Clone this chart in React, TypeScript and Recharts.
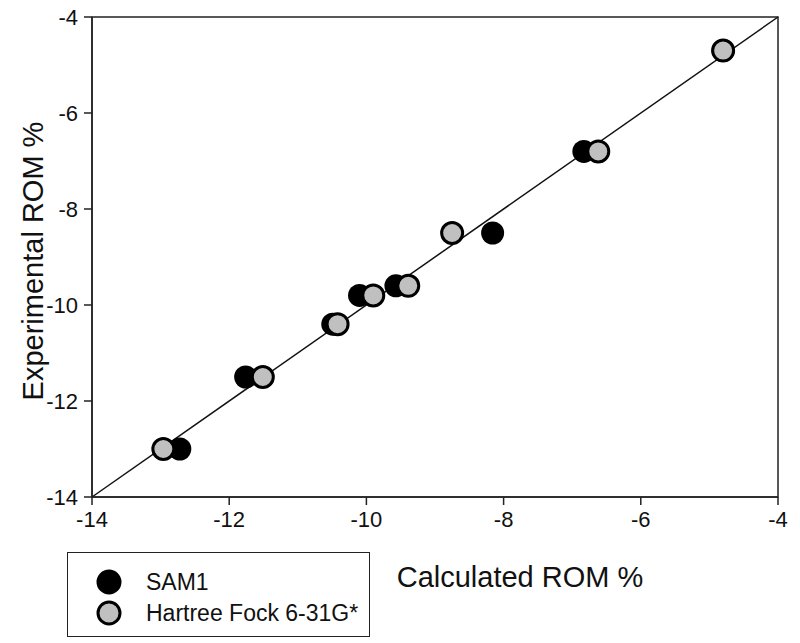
import {
  ScatterChart,
  Scatter,
  XAxis,
  YAxis,
  ReferenceLine,
  ReferenceArea
} from 'recharts';

// experimental ROM % (shared y values)
const experimental = [-13.0, -11.5, -10.4, -9.8, -9.6, -8.5, -6.8, -4.7];
// calculated ROM % per method
const sam1 = [-12.72, -11.76, -10.49, -10.1, -9.57, -8.16, -6.83, -4.8];
const hartreeFock = [-12.96, -11.51, -10.42, -9.9, -9.39, -8.75, -6.62, -4.8];
const ticks = [-14, -12, -10, -8, -6, -4];
const legendItems = [
  { name: 'SAM1', fill: '#000' },
  { name: 'Hartree Fock 6-31G*', fill: '#c0c0c0' }
];

const sam1Data = sam1.map((x, i) => ({ x, y: experimental[i] }));
const hfData = hartreeFock.map((x, i) => ({ x, y: experimental[i] }));

const FONT = '"Liberation Sans", Arial, sans-serif';
const AXIS = '#222';

const LegendBox = () => (
  <div
    style={{
      position: 'absolute',
      left: 67,
      top: 552,
      width: 303,
      height: 85,
      border: `1.5px solid ${AXIS}`,
      fontFamily: FONT,
      fontSize: 23,
      color: '#111',
      boxSizing: 'border-box',
      background: '#fff'
    }}
  >
    {legendItems.map((item, i) => (
      <div key={item.name} style={{ position: 'absolute', left: 28, top: 16 + i * 31, height: 26, display: 'flex', alignItems: 'center' }}>
        <svg width={26} height={26}>
          <circle cx={13} cy={13} r={11} fill={item.fill} stroke="#000" strokeWidth={3} />
        </svg>
        <span style={{ marginLeft: 24, lineHeight: '26px' }}>{item.name}</span>
      </div>
    ))}
  </div>
);

export default function App() {
  return (
    <div style={{ position: 'absolute', left: 0, top: 0, width: 800, height: 643, background: '#fff' }}>
      <ScatterChart width={800} height={643} margin={{ top: 17, right: 22, left: 0, bottom: 0 }}>
        <ReferenceArea x1={-14} x2={-4} y1={-14} y2={-4} fill="none" stroke={AXIS} strokeWidth={1.5} />
        <XAxis
          type="number"
          dataKey="x"
          domain={[-14, -4]}
          ticks={ticks}
          height={146}
          tickSize={8}
          tickMargin={6}
          stroke={AXIS}
          strokeWidth={1.5}
          tick={{ fill: '#111', fontSize: 22, fontFamily: FONT }}
          allowDataOverflow
          label={(props: any) => {
            const vb = props.viewBox;
            return (
              <text x={vb.x + 428} y={vb.y + 90} textAnchor="middle" fill="#111" fontSize={29} fontFamily={FONT}>
                Calculated ROM %
              </text>
            );
          }}
        />
        <YAxis
          type="number"
          dataKey="y"
          domain={[-14, -4]}
          ticks={ticks}
          width={92}
          tickSize={8}
          tickMargin={6}
          stroke={AXIS}
          strokeWidth={1.5}
          tick={{ fill: '#111', fontSize: 22, fontFamily: FONT }}
          allowDataOverflow
          label={(props: any) => {
            const vb = props.viewBox;
            const cx = vb.x + 33;
            const cy = vb.y + vb.height / 2 + 4;
            return (
              <text x={cx} y={cy} transform={`rotate(-90 ${cx} ${cy})`} textAnchor="middle" dominantBaseline="central" fill="#111" fontSize={29} fontFamily={FONT}>
                Experimental ROM %
              </text>
            );
          }}
        />
        <ReferenceLine segment={[{ x: -14, y: -14 }, { x: -4, y: -4 }]} stroke="#111" strokeWidth={1.5} />
        <Scatter name="SAM1" data={sam1Data} fill="#000" isAnimationActive={false} shape={(p: any) => <circle cx={p.cx} cy={p.cy} r={11.5} fill="#000" />} />
        <Scatter
          name="Hartree Fock 6-31G*"
          data={hfData}
          fill="#c0c0c0"
          isAnimationActive={false}
          shape={(p: any) => <circle cx={p.cx} cy={p.cy} r={10.5} fill="#c0c0c0" stroke="#000" strokeWidth={3} />}
        />
      </ScatterChart>
      <LegendBox />
    </div>
  );
}
